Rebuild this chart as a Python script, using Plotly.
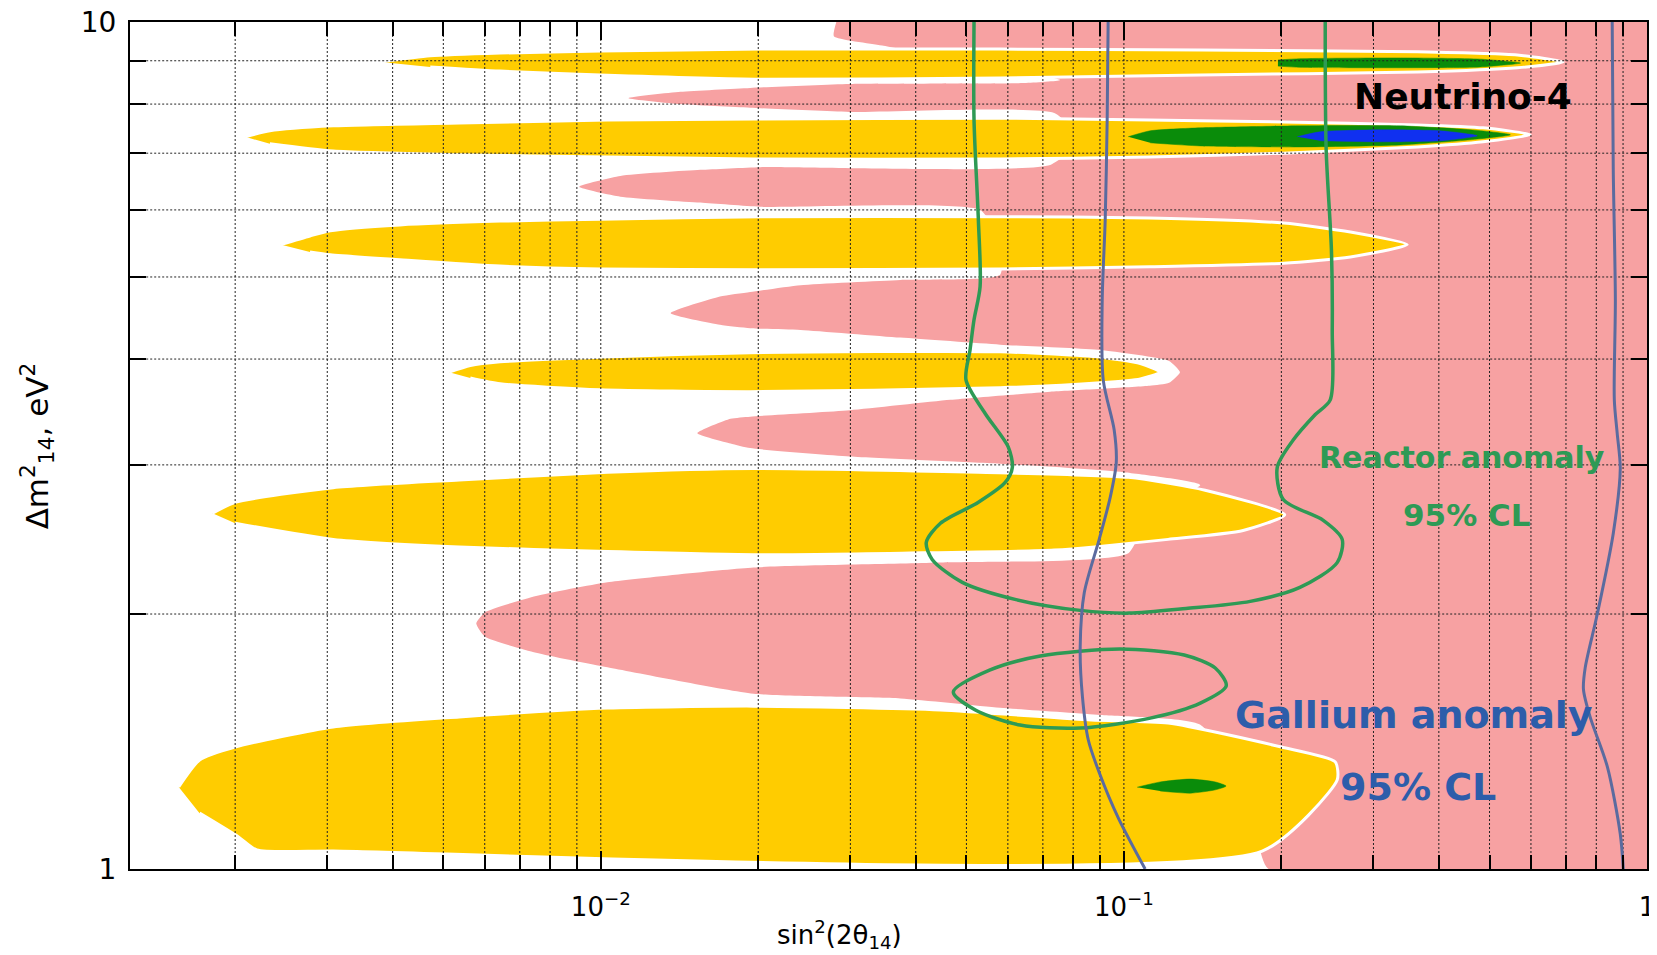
import plotly.graph_objects as go

# ---------------- data (sin^2(2theta14), dm^2_14 [eV^2]) ----------------
# pink excluded region (left boundary traced top -> bottom, then closed on the right)
PINK_X = [0.0282, 0.0279, 0.0345, 0.0755, 0.0645, 0.0299, 0.0193, 0.0142, 0.0113, 0.0142, 0.0193, 0.0299,
          0.0736, 0.0825, 0.0723, 0.0202, 0.0155, 0.0109, 0.00909, 0.0109, 0.0155, 0.0202, 0.0531, 0.058,
          0.058, 0.0374, 0.0241, 0.0193, 0.0169, 0.0136, 0.0169, 0.0193, 0.0241, 0.0374, 0.058, 0.0901,
          0.122, 0.128, 0.122, 0.112, 0.0723, 0.0466, 0.0299, 0.0193, 0.0177, 0.0153, 0.0177, 0.0193,
          0.0299, 0.058, 0.10, 0.14, 0.112, 0.102, 0.0446, 0.0196, 0.0103, 0.00752, 0.00601, 0.00578, 0.00601,
          0.00752, 0.0103, 0.0196, 0.0374, 0.058, 0.0901, 0.14, 0.174, 0.189, 1.0, 1.0]
PINK_Y = [10, 9.62, 9.38, 8.54, 8.47, 8.45, 8.36, 8.27, 8.13, 8.00, 7.92, 7.83,
          7.81, 7.26, 6.78, 6.74, 6.69, 6.58, 6.39, 6.22, 6.12, 6.05, 6.0, 5.53,
          5.03, 4.96, 4.89, 4.80, 4.74, 4.53, 4.39, 4.35, 4.33, 4.24, 4.16, 4.10,
          3.98, 3.86, 3.75, 3.72, 3.66, 3.58, 3.48, 3.42, 3.40, 3.27, 3.18, 3.14,
          3.07, 3.01, 2.94, 2.84, 2.65, 2.36, 2.30, 2.27, 2.18, 2.10, 2.01, 1.95, 1.88,
          1.80, 1.73, 1.61, 1.59, 1.55, 1.52, 1.48, 1.21, 1.0, 1.0, 10]

# yellow allowed islands
Y1_X = [0.0038, 0.00472, 0.00642, 0.00997, 0.0202, 0.058, 0.14, 0.364, 0.565, 0.692,
        0.565, 0.364, 0.14, 0.058, 0.0202, 0.00997, 0.00642, 0.00472]
Y1_Y = [8.97, 9.12, 9.19, 9.24, 9.29, 9.29, 9.27, 9.22, 9.14, 8.97,
        8.83, 8.73, 8.66, 8.59, 8.56, 8.66, 8.75, 8.85]
Y3_X = [0.00209, 0.00233, 0.00308, 0.00536, 0.0103, 0.0196, 0.058, 0.112, 0.202, 0.364, 0.486, 0.598,
        0.486, 0.364, 0.202, 0.112, 0.058, 0.0196, 0.0103, 0.00536, 0.00308, 0.00233]
Y3_Y = [7.32, 7.44, 7.54, 7.60, 7.66, 7.68, 7.70, 7.66, 7.62, 7.56, 7.50, 7.36,
        7.22, 7.12, 7.00, 6.93, 6.89, 6.89, 6.93, 6.97, 7.04, 7.18]
Y5_X = [0.00244, 0.00278, 0.00304, 0.00413, 0.00642, 0.00997, 0.0202, 0.058, 0.112, 0.202, 0.271, 0.348,
        0.271, 0.202, 0.112, 0.058, 0.0202, 0.00997, 0.00642, 0.00413, 0.00304, 0.00278]
Y5_Y = [5.46, 5.59, 5.67, 5.76, 5.82, 5.85, 5.89, 5.89, 5.87, 5.79, 5.65, 5.46,
        5.28, 5.19, 5.14, 5.11, 5.10, 5.11, 5.15, 5.24, 5.31, 5.35]
Y7_X = [0.00513, 0.00563, 0.00642, 0.00997, 0.0193, 0.058, 0.0901, 0.1075, 0.1173,
        0.1075, 0.0901, 0.058, 0.0193, 0.00997, 0.00642, 0.00563]
Y7_Y = [3.86, 3.93, 3.97, 4.02, 4.07, 4.08, 4.02, 3.95, 3.86,
        3.79, 3.75, 3.70, 3.66, 3.68, 3.74, 3.80]
Y9_X = [0.00181, 0.002, 0.00308, 0.00536, 0.0103, 0.0196, 0.0527, 0.102, 0.143, 0.203,
        0.169, 0.1215, 0.0736, 0.0377, 0.0196, 0.0103, 0.00536, 0.00308, 0.002]
Y9_Y = [2.63, 2.71, 2.82, 2.88, 2.94, 2.97, 2.94, 2.90, 2.80, 2.62,
        2.51, 2.45, 2.38, 2.36, 2.35, 2.37, 2.40, 2.45, 2.56]
Y11_X = [0.00156, 0.00171, 0.002, 0.00308, 0.00536, 0.0103, 0.0196, 0.0446, 0.0866, 0.1215, 0.200,
         0.2535, 0.2557, 0.1838, 0.00308, 0.0022, 0.00203, 0.00171]
Y11_Y = [1.25, 1.345, 1.393, 1.471, 1.512, 1.549, 1.557, 1.541, 1.499, 1.487, 1.393,
         1.338, 1.274, 1.05, 1.05, 1.053, 1.091, 1.164]

# green / blue best-fit islands
G1_X = [0.197, 0.217, 0.3375, 0.48, 0.573, 0.48, 0.3375, 0.217, 0.197]
G1_Y = [9.02, 9.05, 9.07, 9.04, 8.945, 8.85, 8.83, 8.84, 8.87]
G3_X = [0.1019, 0.1123, 0.14, 0.217, 0.3375, 0.459, 0.548, 0.459, 0.3375, 0.217, 0.14, 0.1123]
G3_Y = [7.32, 7.44, 7.50, 7.54, 7.54, 7.46, 7.36, 7.26, 7.16, 7.12, 7.14, 7.20]
B3_X = [0.2145, 0.2373, 0.309, 0.4025, 0.4737, 0.4025, 0.309, 0.2373]
B3_Y = [7.32, 7.42, 7.46, 7.44, 7.34, 7.24, 7.22, 7.24]
G2_X = [0.106, 0.1173, 0.1339, 0.1495, 0.1569, 0.1495, 0.1339, 0.1173]
G2_Y = [1.249, 1.267, 1.277, 1.267, 1.253, 1.240, 1.229, 1.236]

# reactor anomaly 95% CL contours
REACTOR_OUTER_X = [0.0517, 0.0517, 0.0527, 0.0531, 0.0517, 0.0508, 0.0499, 0.0543, 0.0601, 0.0612, 0.0593,
                   0.0527, 0.0446, 0.0419, 0.043, 0.0491, 0.0622, 0.0825, 0.1023, 0.1315, 0.1744, 0.217,
                   0.2557, 0.2614, 0.2405, 0.2017, 0.1964, 0.2107, 0.2322, 0.248, 0.2502, 0.2493, 0.2436, 0.2426]
REACTOR_OUTER_Y = [10, 7.66, 5.84, 4.87, 4.45, 4.10, 3.78, 3.45, 3.15, 2.98, 2.86,
                   2.71, 2.56, 2.43, 2.32, 2.18, 2.08, 2.02, 2.005, 2.03, 2.07, 2.15,
                   2.30, 2.45, 2.58, 2.73, 2.98, 3.21, 3.44, 3.58, 4.33, 5.38, 7.06, 10]
REACTOR_INNER_X = [0.0472, 0.0555, 0.0692, 0.0984, 0.1304, 0.1495, 0.1569, 0.14, 0.1123, 0.0825, 0.0633, 0.052, 0.0472]
REACTOR_INNER_Y = [1.618, 1.718, 1.784, 1.819, 1.789, 1.727, 1.645, 1.570, 1.507, 1.467, 1.479, 1.541, 1.618]

# gallium anomaly 95% CL contours
GALLIUM_LEFT_X = [0.0933, 0.0929, 0.0921, 0.0909, 0.0913, 0.0958, 0.0967, 0.0942, 0.0897, 0.084,
                  0.0825, 0.0833, 0.0855, 0.0897, 0.0975, 0.1098]
GALLIUM_LEFT_Y = [10, 7.66, 5.84, 4.70, 3.78, 3.30, 3.02, 2.75, 2.45, 2.12, 1.83, 1.60, 1.42, 1.30, 1.15, 1.0]
GALLIUM_RIGHT_X = [0.858, 0.862, 0.870, 0.866, 0.877, 0.889, 0.862, 0.8035, 0.762, 0.756, 0.779, 0.840, 0.889, 0.901]
GALLIUM_RIGHT_Y = [10, 6.69, 4.70, 3.58, 3.27, 2.97, 2.49, 2.0, 1.73, 1.63, 1.51, 1.32, 1.10, 1.0]

# axis ticks
X_MAJOR = [0.01, 0.1, 1]
X_MAJOR_TEXT = ["10<sup>−2</sup>", "10<sup>−1</sup>", "1"]
X_MINOR = [0.002, 0.003, 0.004, 0.005, 0.006, 0.007, 0.008, 0.009,
           0.02, 0.03, 0.04, 0.05, 0.06, 0.07, 0.08, 0.09,
           0.2, 0.3, 0.4, 0.5, 0.6, 0.7, 0.8, 0.9]
Y_MAJOR = [1, 10]
Y_MAJOR_TEXT = ["1", "10"]
Y_MINOR = [2, 3, 4, 5, 6, 7, 8, 9]
X_RANGE = [0.00126, 1.0]
Y_RANGE = [1.0, 10.0]

# ---------------- styles ----------------
PINK = "#F7A1A2"
YELLOW = "#FFCC00"
GREEN_FILL = "#0A8C0A"
BLUE_FILL = "#1030F0"
REACTOR_COL = "#2E9A55"
GALLIUM_COL = "#5B6B9F"
GALLIUM_TXT = "#2D5DAA"
FONT = "DejaVu Sans"

fig = go.Figure()


def polygon(x, y, fill, line_color, line_width, smooth):
    fig.add_trace(go.Scatter(x=x, y=y, mode="lines", fill="toself", fillcolor=fill,
                             line=dict(color=line_color, width=line_width, shape="spline", smoothing=smooth),
                             hoverinfo="skip", showlegend=False))


def curve(x, y, color, width, dash="solid", shape="spline"):
    fig.add_trace(go.Scatter(x=x, y=y, mode="lines",
                             line=dict(color=color, width=width, shape=shape, smoothing=0.8, dash=dash),
                             hoverinfo="skip", showlegend=False, connectgaps=False))


polygon(PINK_X, PINK_Y, PINK, PINK, 0, 0.5)
for xs, ys in [(Y1_X, Y1_Y), (Y3_X, Y3_Y), (Y5_X, Y5_Y), (Y7_X, Y7_Y), (Y9_X, Y9_Y), (Y11_X, Y11_Y)]:
    polygon(xs, ys, YELLOW, "white", 3, 0.6)
for xs, ys in [(G1_X, G1_Y), (G3_X, G3_Y), (G2_X, G2_Y)]:
    polygon(xs, ys, GREEN_FILL, GREEN_FILL, 0.5, 0.6)
polygon(B3_X, B3_Y, BLUE_FILL, BLUE_FILL, 0.5, 0.6)

# dotted grid drawn on top of the filled regions
grid_x, grid_y = [], []
for v in X_MAJOR[:-1] + X_MINOR:
    grid_x += [v, v, None]
    grid_y += [Y_RANGE[0], Y_RANGE[1], None]
for v in Y_MINOR:
    grid_x += [X_RANGE[0], X_RANGE[1], None]
    grid_y += [v, v, None]
curve(grid_x, grid_y, "#222222", 1, dash="2px,2px", shape="linear")

curve(REACTOR_OUTER_X, REACTOR_OUTER_Y, REACTOR_COL, 3.5)
curve(REACTOR_INNER_X, REACTOR_INNER_Y, REACTOR_COL, 3.5)
curve(GALLIUM_LEFT_X, GALLIUM_LEFT_Y, GALLIUM_COL, 3)
curve(GALLIUM_RIGHT_X, GALLIUM_RIGHT_Y, GALLIUM_COL, 3)

fig.update_xaxes(type="log", range=[-2.9, 0], tickmode="array", tickvals=X_MAJOR, ticktext=X_MAJOR_TEXT,
                 ticks="inside", ticklen=18, tickwidth=2, tickcolor="black", showgrid=False,
                 minor=dict(tickvals=X_MINOR, ticks="inside", ticklen=14, tickwidth=2, tickcolor="black",
                            showgrid=False),
                 showline=True, linecolor="black", linewidth=2, mirror="ticks", zeroline=False,
                 layer="above traces", ticklabelstandoff=14, automargin=False, ticklabeloverflow="allow",
                 tickfont=dict(family=FONT, size=26, color="black"))
fig.update_yaxes(type="log", range=[0, 1], tickmode="array", tickvals=Y_MAJOR, ticktext=Y_MAJOR_TEXT,
                 ticks="inside", ticklen=18, tickwidth=2, tickcolor="black", showgrid=False,
                 minor=dict(tickvals=Y_MINOR, ticks="inside", ticklen=16, tickwidth=2, tickcolor="black",
                            showgrid=False),
                 showline=True, linecolor="black", linewidth=2, mirror="ticks", zeroline=False,
                 layer="above traces", ticklabelstandoff=6, automargin=False, ticklabeloverflow="allow",
                 tickfont=dict(family=FONT, size=28, color="black"))

ann = [
    dict(x=0.8787, y=0.9115, text="<b>Neutrino-4</b>", font=dict(family=FONT, size=36, color="black")),
    dict(x=0.878, y=0.4864, text="<b>Reactor anomaly</b>", font=dict(family=FONT, size=30, color=REACTOR_COL)),
    dict(x=0.8814, y=0.418, text="<b>95% CL</b>", font=dict(family=FONT, size=31, color=REACTOR_COL)),
    dict(x=0.8464, y=0.1818, text="<b>Gallium anomaly</b>", font=dict(family=FONT, size=38, color=GALLIUM_TXT)),
    dict(x=0.849, y=0.0968, text="<b>95% CL</b>", font=dict(family=FONT, size=38, color=GALLIUM_TXT)),
    dict(x=0.468, y=-0.077, text="sin<sup>2</sup>(2θ<sub>14</sub>)", font=dict(family=FONT, size=26, color="black")),
    dict(x=-0.0613, y=0.499, text="Δm<sup>2</sup><sub>14</sub>, eV<sup>2</sup>", textangle=-90,
         font=dict(family=FONT, size=31, color="black")),
]
for a in ann:
    a.update(xref="paper", yref="paper", xanchor="center", yanchor="middle", showarrow=False)
# the page body adds an 8 px offset, so the figure is sized to end exactly at the window edges
fig.update_layout(annotations=ann, width=1649, height=947,
                  margin=dict(l=122, r=10, t=14, b=86, autoexpand=False),
                  plot_bgcolor="white", paper_bgcolor="white", showlegend=False)

fig.write_html("out.html")
